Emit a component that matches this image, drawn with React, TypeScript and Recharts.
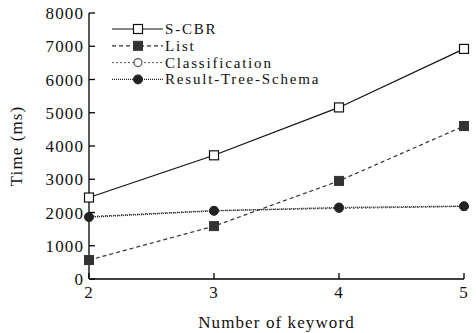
import { LineChart, Line, XAxis, YAxis } from 'recharts'

const keywords = [2, 3, 4, 5]
const scbr = [2450, 3720, 5160, 6920]
const list = [570, 1590, 2950, 4600]
const classification = [1880, 2060, 2120, 2180]
const resultTree = [1860, 2050, 2150, 2190]
const yTicks = [0, 1000, 2000, 3000, 4000, 5000, 6000, 7000, 8000]

const data = keywords.map((k, i) => ({
  k,
  scbr: scbr[i],
  list: list[i],
  classification: classification[i],
  resultTree: resultTree[i],
}))

const FONT = 'Liberation Serif, Times New Roman, serif'
const txt = { fontFamily: FONT, fontSize: 17, letterSpacing: 1.1 }
// legend rows sit close together, so a slightly smaller face there
const legendTxt = { fontFamily: FONT, fontSize: 15, letterSpacing: 1.8 }

type Marker = 'squareOpen' | 'squareFill' | 'circleOpen' | 'circleFill'

const drawMarker = (kind: Marker, cx: number, cy: number, color: string, key?: string) => {
  if (kind === 'squareOpen')
    return <rect key={key} x={cx - 4.5} y={cy - 4.5} width={9} height={9} fill="#fff" stroke={color} strokeWidth={1.2} />
  if (kind === 'squareFill')
    return <rect key={key} x={cx - 4.5} y={cy - 4.5} width={9} height={9} fill={color} stroke={color} />
  if (kind === 'circleOpen')
    return <circle key={key} cx={cx} cy={cy} r={4} fill="#fff" stroke={color} strokeWidth={1.2} />
  return <circle key={key} cx={cx} cy={cy} r={4.5} fill={color} stroke={color} />
}

const series = [
  { key: 'scbr', name: 'S-CBR', color: '#111', dash: undefined, width: 1.2, marker: 'squareOpen' as Marker },
  { key: 'list', name: 'List', color: '#333', dash: '4 3', width: 1.2, marker: 'squareFill' as Marker },
  { key: 'classification', name: 'Classification', color: '#555', dash: '2 2', width: 1, marker: 'circleOpen' as Marker },
  { key: 'resultTree', name: 'Result-Tree-Schema', color: '#222', dash: '1 1', width: 1.4, marker: 'circleFill' as Marker },
]

function YTick(props: any) {
  const { x, y, payload } = props
  return (
    <g>
      <line x1={x} y1={y} x2={x + 6} y2={y} stroke="#000" strokeWidth={1.3} />
      <text x={x - 5} y={y + 6} textAnchor="end" style={txt} fill="#111">
        {payload.value}
      </text>
    </g>
  )
}

function XTick(props: any) {
  const { x, y, payload } = props
  return (
    <g>
      <line x1={x} y1={y} x2={x} y2={y - 6} stroke="#000" strokeWidth={1.3} />
      <text x={x} y={y + 19} textAnchor="middle" style={txt} fill="#111">
        {payload.value}
      </text>
    </g>
  )
}

function LegendBox() {
  return (
    <svg width={240} height={72} style={{ position: 'absolute', left: 110, top: 20 }}>
      {series.map((s, i) => {
        const cy = 9 + i * 16.8
        return (
          <g key={s.key}>
            <line x1={2} y1={cy} x2={53} y2={cy} stroke={s.color} strokeWidth={s.width} strokeDasharray={s.dash} />
            {drawMarker(s.marker, 28, cy, s.color)}
            <text x={55} y={cy + 5} style={legendTxt} fill="#111">
              {s.name}
            </text>
          </g>
        )
      })}
    </svg>
  )
}

export default function App() {
  return (
    <div style={{ position: 'absolute', left: 0, top: 0, width: 476, height: 333, background: '#fff' }}>
      <LineChart width={476} height={333} data={data} margin={{ top: 13, right: 12, bottom: 0, left: 0 }}>
        <XAxis
          dataKey="k"
          type="number"
          domain={[2, 5]}
          ticks={keywords}
          height={54}
          tickSize={0}
          tickMargin={0}
          tickLine={false}
          axisLine={{ stroke: '#000', strokeWidth: 1.3 }}
          tick={<XTick />}
          label={{
            content: (p: any) => {
              const vb = p.viewBox
              return (
                <text x={vb.x + vb.width / 2} y={vb.y + 49} textAnchor="middle" style={txt} fill="#111">
                  Number of keyword
                </text>
              )
            },
          }}
        />
        <YAxis
          type="number"
          domain={[0, 8000]}
          ticks={yTicks}
          width={89}
          tickSize={0}
          tickMargin={0}
          tickLine={false}
          axisLine={{ stroke: '#000', strokeWidth: 1.3 }}
          tick={<YTick />}
          label={{
            content: (p: any) => {
              const vb = p.viewBox
              const cx = 22
              const cy = vb.y + vb.height / 2
              return (
                <text x={cx} y={cy} transform={`rotate(-90 ${cx} ${cy})`} textAnchor="middle" style={txt} fill="#111">
                  Time (ms)
                </text>
              )
            },
          }}
        />
        {series.map(s => (
          <Line
            key={s.key}
            dataKey={s.key}
            name={s.name}
            type="linear"
            stroke={s.color}
            strokeWidth={s.width}
            strokeDasharray={s.dash}
            dot={(p: any) => drawMarker(s.marker, p.cx, p.cy, s.color, `${s.key}-${p.index}`)}
            activeDot={false}
            isAnimationActive={false}
          />
        ))}
      </LineChart>
      <LegendBox />
    </div>
  )
}
